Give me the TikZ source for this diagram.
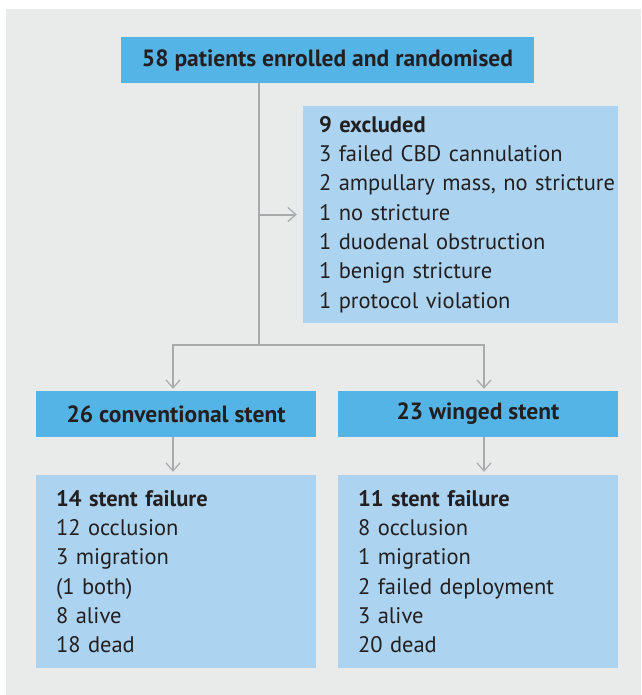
\documentclass[tikz,border=0pt]{standalone}
\usepackage{fontspec}
\setmainfont{PT Sans}
\usepackage{tikz}
\usetikzlibrary{arrows.meta}
\definecolor{panelgrey}{HTML}{E9EBEA}
\definecolor{headblue}{HTML}{55B4E6}
\definecolor{listblue}{HTML}{ACD4F0}
\definecolor{linegrey}{HTML}{A9AAAC}
\definecolor{inkdark}{HTML}{231F20}

\begin{document}
\begin{tikzpicture}[x=1pt,y=-1pt,
  font=\fontsize{22.5}{29.3}\selectfont, text=inkdark,
  headbox/.style={fill=headblue, minimum height=46pt, inner sep=0pt, font=\fontsize{23.5}{29.3}\selectfont\bfseries},
  listbox/.style={fill=listblue, inner ysep=0pt, align=left},
  flow/.style={draw=linegrey, line width=2pt, -{Straight Barb[length=8pt,width=14pt,line width=1.2pt]}}]
\useasboundingbox (0,0) rectangle (641,695);
\fill[panelgrey] (6,9) rectangle (641,695);

% boxes
\node[headbox, minimum width=413pt] (enrol) at (327.5,60) {58 patients enrolled and randomised};
\node[listbox, inner xsep=16pt, minimum width=315pt, minimum height=217pt, text width=283pt] (excl) at (460.5,214.5)
  {\textbf{9 excluded}\\3 failed CBD cannulation\\\mbox{2 ampullary mass, no stricture}\\1 no stricture\\1 duodenal obstruction\\1 benign stricture\\1 protocol violation};
\node[headbox, minimum width=280pt] (conv) at (176,414) {26 conventional stent};
\node[headbox, minimum width=280pt] (wing) at (478,414) {23 winged stent};
\node[listbox, inner xsep=20pt, minimum width=280pt, minimum height=193pt, text width=240pt] (convres) at (176,571.5)
  {\textbf{14 stent failure}\\12 occlusion\\3 migration\\(1 both)\\8 alive\\18 dead};
\node[listbox, inner xsep=20pt, minimum width=280pt, minimum height=193pt, text width=240pt] (wingres) at (478,571.5)
  {\textbf{11 stent failure}\\8 occlusion\\1 migration\\2 failed deployment\\3 alive\\20 dead};

% connectors (the drop lines sit a little off the box centres)
\coordinate (split) at (259,345);
\coordinate (convdrop) at ([xshift=-3pt]conv.north);
\coordinate (wingdrop) at ([xshift=6pt]wing.north);
\draw[draw=linegrey, line width=2pt] (split |- enrol.south) -- (split);
\draw[flow, shorten >=6pt] (split |- excl.west) -- (excl.west);
\draw[flow, shorten >=2pt] (split) -| (convdrop);
\draw[flow, shorten >=2pt] (split) -| (wingdrop);
\draw[flow, shorten >=3pt] (convdrop |- conv.south) -- (convdrop |- convres.north);
\draw[flow, shorten >=3pt] (wingdrop |- wing.south) -- (wingdrop |- wingres.north);
\end{tikzpicture}
\end{document}
